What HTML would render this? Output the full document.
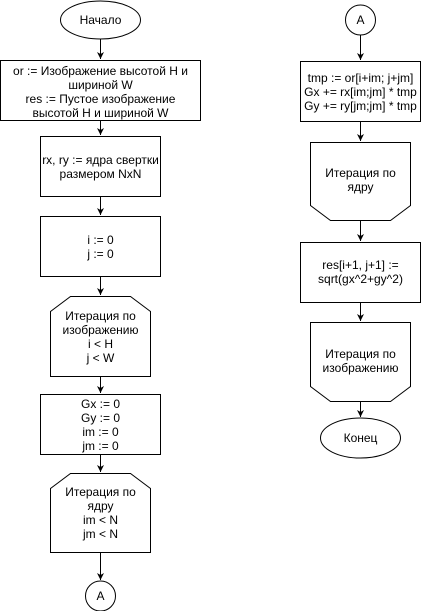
<!DOCTYPE html>
<html><head><meta charset="utf-8"><style>
html,body{margin:0;padding:0;background:#fff;}
svg text{font-family:"Liberation Sans",sans-serif;font-size:12px;fill:#000;text-anchor:middle;}
</style></head><body>
<svg width="421" height="611" viewBox="0 0 421 611" xmlns="http://www.w3.org/2000/svg">
<defs><marker id="a" markerWidth="8" markerHeight="8" refX="7" refY="4" orient="auto" markerUnits="userSpaceOnUse"><path d="M0,0.5 L7,4 L0,7.5 L2,4 Z" fill="#000"/></marker></defs>
<g fill="#fff" stroke="#000" stroke-width="1">
<ellipse cx="100.5" cy="20" rx="40" ry="19"/>
<rect x="0.5" y="60.5" width="200" height="60"/>
<rect x="40.5" y="136.5" width="120" height="60"/>
<rect x="40.5" y="216.5" width="120" height="60"/>
<path d="M70.5,296.5 H130.5 L150.5,311.5 V376.5 H50.5 V311.5 Z"/>
<rect x="40.5" y="394.5" width="120" height="60"/>
<path d="M70.5,473.5 H130.5 L150.5,488.5 V552.5 H50.5 V488.5 Z"/>
<circle cx="100.5" cy="596" r="15"/>
<circle cx="360.5" cy="20" r="15"/>
<rect x="300.5" y="61.5" width="120" height="60"/>
<path d="M310.5,142.5 H410.5 V205.5 L390.5,220.5 H330.5 L310.5,205.5 Z"/>
<rect x="300.5" y="242.5" width="120" height="60"/>
<path d="M310.5,322.5 H410.5 V386.5 L390.5,401.5 H330.5 L310.5,386.5 Z"/>
<ellipse cx="360.5" cy="438" rx="40" ry="20"/>
</g>
<g stroke="#000" stroke-width="1" marker-end="url(#a)">
<line x1="100.5" y1="39" x2="100.5" y2="59"/>
<line x1="100.5" y1="121" x2="100.5" y2="135"/>
<line x1="100.5" y1="197" x2="100.5" y2="215"/>
<line x1="100.5" y1="277" x2="100.5" y2="295"/>
<line x1="100.5" y1="377" x2="100.5" y2="393"/>
<line x1="100.5" y1="455" x2="100.5" y2="472"/>
<line x1="100.5" y1="553" x2="100.5" y2="580"/>
<line x1="360.5" y1="35" x2="360.5" y2="60"/>
<line x1="360.5" y1="122" x2="360.5" y2="141"/>
<line x1="360.5" y1="221" x2="360.5" y2="241"/>
<line x1="360.5" y1="303" x2="360.5" y2="321"/>
<line x1="360.5" y1="402" x2="360.5" y2="417"/>
</g>
<text x="100.5" y="24">Начало</text>
<text x="100.5" y="75">or := Изображение высотой H и</text>
<text x="100.5" y="89">шириной W</text>
<text x="100.5" y="103">res := Пустое изображение</text>
<text x="100.5" y="117">высотой H и шириной W</text>
<text x="100.5" y="164">rx, ry := ядра свертки</text>
<text x="100.5" y="178">размером NxN</text>
<text x="100.5" y="244">i := 0</text>
<text x="100.5" y="258">j := 0</text>
<text x="100.5" y="320">Итерация по</text>
<text x="100.5" y="334">изображению</text>
<text x="100.5" y="348">i &lt; H</text>
<text x="100.5" y="362">j &lt; W</text>
<text x="100.5" y="408">Gx := 0</text>
<text x="100.5" y="422">Gy := 0</text>
<text x="100.5" y="436">im := 0</text>
<text x="100.5" y="450">jm := 0</text>
<text x="100.5" y="496">Итерация по</text>
<text x="100.5" y="510">ядру</text>
<text x="100.5" y="524">im &lt; N</text>
<text x="100.5" y="538">jm &lt; N</text>
<text x="100.5" y="600">A</text>
<text x="360.5" y="24">A</text>
<text x="360.5" y="82">tmp := or[i+im; j+jm]</text>
<text x="360.5" y="96">Gx += rx[im;jm] * tmp</text>
<text x="360.5" y="110">Gy += ry[jm;jm] * tmp</text>
<text x="360.5" y="177">Итерация по</text>
<text x="360.5" y="191">ядру</text>
<text x="360.5" y="269">res[i+1, j+1] :=</text>
<text x="360.5" y="283">sqrt(gx^2+gy^2)</text>
<text x="360.5" y="358">Итерация по</text>
<text x="360.5" y="372">изображению</text>
<text x="360.5" y="442">Конец</text>
</svg>
</body></html>
